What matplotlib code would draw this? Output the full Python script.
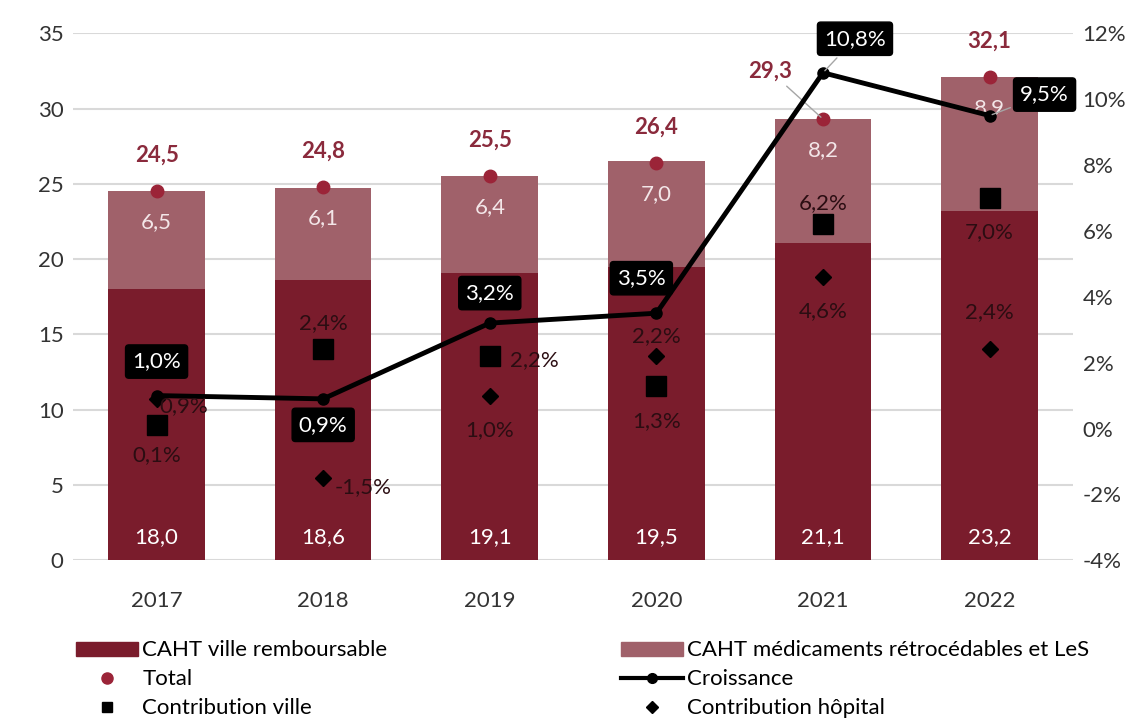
import numpy as np
import matplotlib
matplotlib.use('Agg')
import matplotlib.pyplot as plt
from matplotlib.lines import Line2D
from matplotlib.patches import Patch

## data

years = ['2017', '2018', '2019', '2020', '2021', '2022']
caht_ville = [18.0, 18.6, 19.1, 19.5, 21.1, 23.2]
caht_retro = [6.5, 6.1, 6.4, 7.0, 8.2, 8.9]
total = [24.5, 24.8, 25.5, 26.4, 29.3, 32.1]
croissance = [1.0, 0.9, 3.2, 3.5, 10.8, 9.5]
contrib_ville = [0.1, 2.4, 2.2, 1.3, 6.2, 7.0]
contrib_hopital = [0.9, -1.5, 1.0, 2.2, 4.6, 2.4]

# label offsets in pixels (styling only)
off_croiss = [(0, 34), (0, -26), (0, 30), (-15, 35), (32, 34), (55, 21)]
off_ville = [(0, -30), (0, 26), (45, -4), (0, -35), (0, 21), (0, -34)]
off_hop = [(27, -7), (40, -9), (0, -35), (0, 20), (0, -34), (0, 37)]
off_total = [(0, 36), (0, 36), (0, 36), (0, 36), (-53, 48), (0, 36)]

dark_red = '#7a1c2c'
light_red = '#a0616a'
dot_red = '#9b2438'
lab_red = '#8a2a3c'
txt_dark = '#2b0d12'
fs = 16

plt.rcParams['font.family'] = ['Lato', 'DejaVu Sans']

def fr(v, pct=False):
    s = ('%.1f' % v).replace('.', ',')
    return s + '%' if pct else s

fig = plt.figure(figsize=(11.45, 7.22), dpi=100)
ax1 = fig.add_axes([0.064, 0.224, 0.873, 0.730])
x = np.arange(len(years))

ax1.bar(x, caht_ville, width=0.58, color=dark_red, zorder=2)
ax1.bar(x, caht_retro, width=0.58, bottom=caht_ville, color=light_red, zorder=2)
ax1.plot(x, total, 'o', color=dot_red, markersize=9, zorder=3)

ax1.set_ylim(0, 35)
ax1.set_xlim(-0.5, 5.5)
ax1.set_yticks(range(0, 36, 5))
ax1.set_xticks(x)
ax1.set_xticklabels(years)
ax1.grid(axis='y', color='#d9d9d9', linewidth=1.5, zorder=0)
ax1.set_axisbelow(True)
for s in ax1.spines.values():
    s.set_visible(False)
ax1.tick_params(length=0, labelsize=fs, colors='#333333')
ax1.tick_params(axis='x', pad=22)
ax1.tick_params(axis='y', pad=7)

for i in range(len(years)):
    ax1.annotate(fr(caht_ville[i]), (x[i], 0), xytext=(0, 23), textcoords='offset pixels',
                 ha='center', va='center', color='white', fontsize=fs, zorder=4)
    ax1.annotate(fr(caht_retro[i]), (x[i], total[i]), xytext=(0, -31), textcoords='offset pixels',
                 ha='center', va='center', color='#f3e6e8', fontsize=fs, zorder=4)
    lp = dict(arrowstyle='-', color='#a6a6a6', lw=1) if i == 4 else None
    ax1.annotate(fr(total[i]), (x[i], total[i]), xytext=off_total[i], textcoords='offset pixels',
                 ha='center', va='center', color=lab_red, fontsize=fs, fontweight='bold',
                 arrowprops=lp, zorder=4)

ax2 = ax1.twinx()
ax2.set_ylim(-4, 12)
ax2.set_yticks(range(-4, 13, 2))
ax2.set_yticklabels(['%d%%' % t for t in range(-4, 13, 2)])
for s in ax2.spines.values():
    s.set_visible(False)
ax2.tick_params(length=0, labelsize=fs, colors='#333333', pad=7)

ax2.plot(x, croissance, '-o', color='black', linewidth=3.5, markersize=8, zorder=5)
ax2.plot(x, contrib_ville, 's', color='black', markersize=14, zorder=6)
ax2.plot(x, contrib_hopital, 'D', color='black', markersize=8, zorder=6)

for i in range(len(years)):
    lp = dict(arrowstyle='-', color='#a6a6a6', lw=1) if i >= 4 else None
    ax2.annotate(fr(croissance[i], True), (x[i], croissance[i]), xytext=off_croiss[i],
                 textcoords='offset pixels', ha='center', va='center', color='white',
                 fontsize=fs, arrowprops=lp, zorder=7,
                 bbox=dict(boxstyle='round,pad=0.3,rounding_size=0.15', fc='black', ec='black'))
    ax2.annotate(fr(contrib_ville[i], True), (x[i], contrib_ville[i]), xytext=off_ville[i],
                 textcoords='offset pixels', ha='center', va='center', color=txt_dark,
                 fontsize=fs, zorder=7)
    ax2.annotate(fr(contrib_hopital[i], True), (x[i], contrib_hopital[i]), xytext=off_hop[i],
                 textcoords='offset pixels', ha='center', va='center', color=txt_dark,
                 fontsize=fs, zorder=7)

# legend
h_left = [Patch(color=dark_red),
          Line2D([], [], marker='o', color=dot_red, linestyle='none', markersize=8),
          Line2D([], [], marker='s', color='black', linestyle='none', markersize=7)]
l_left = ['CAHT ville remboursable', 'Total', 'Contribution ville']
h_right = [Patch(color=light_red),
           Line2D([], [], marker='o', color='black', linewidth=3, markersize=7),
           Line2D([], [], marker='D', color='black', linestyle='none', markersize=6)]
l_right = ['CAHT médicaments rétrocédables et LeS', 'Croissance', 'Contribution hôpital']
kw = dict(loc='upper left', frameon=False, fontsize=fs, handlelength=2.8, handleheight=0.6,
          handletextpad=0.2, labelspacing=0.4, borderpad=0, borderaxespad=0)
fig.legend(h_left, l_left, bbox_to_anchor=(0.066, 0.113), **kw)
fig.legend(h_right, l_right, bbox_to_anchor=(0.542, 0.113), **kw)

fig.savefig('out.png', dpi=100)
